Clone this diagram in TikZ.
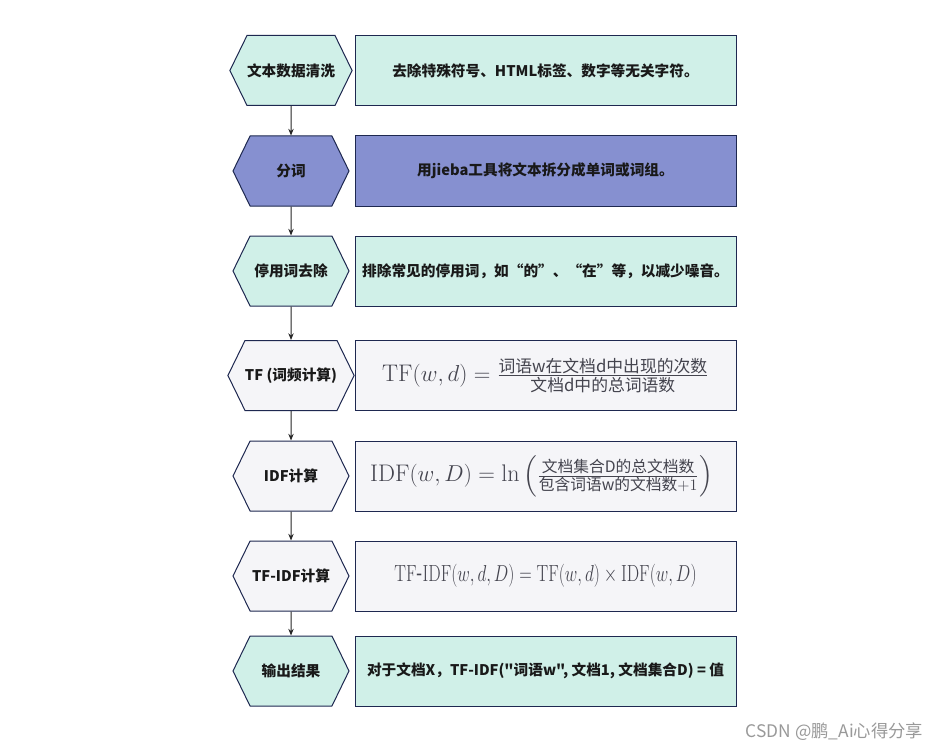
\documentclass[tikz,border=0pt]{standalone}
\usepackage{fontspec}
\usepackage{amsmath}
\usepackage{graphicx}
\newfontfamily\cjk{Noto Sans CJK SC}
\usetikzlibrary{shapes.symbols,arrows.meta}

\definecolor{mint}{HTML}{D0F0E8}
\definecolor{lilac}{HTML}{8690D0}
\definecolor{pale}{HTML}{F5F5F8}
\definecolor{edge}{HTML}{1E2850}
\definecolor{mathgray}{HTML}{44444E}

% words inside the fractions
\newcommand{\fracword}[2][12.6]{\text{\fontsize{#1}{14}\selectfont #2}}

\tikzset{
  stephex/.style={draw=edge, line width=0.75pt, signal, signal to=west and east,
    signal pointer angle=128, minimum width=87pt, minimum height=52.5pt,
    inner sep=0pt, font=\cjk\bfseries\fontsize{11}{13}\selectfont, text=black!90},
  stepbox/.style={draw=edge, line width=0.75pt, rectangle, minimum width=285.75pt,
    minimum height=52.5pt, inner sep=0pt, font=\cjk\bfseries\fontsize{11}{13}\selectfont, text=black!90},
  mathbox/.style={stepbox, fill=pale, font=\cjk\fontsize{18}{22}\selectfont, text=mathgray},
  flow/.style={-{Stealth[length=5pt,width=4pt]}, line width=0.75pt, black!85}
}

\begin{document}
\begin{tikzpicture}[x=0.75pt,y=-0.75pt]
\useasboundingbox[fill=white] (0,0) rectangle (943,749);

\node[stephex, fill=mint]  (clean) at (291,70.5) {文本数据清洗};
\node[stephex, fill=lilac] (cut)   at (291,171) {分词};
\node[stephex, fill=mint]  (stop)  at (291,271) {停用词去除};
\node[stephex, fill=pale]  (tf)    at (291,375.5) {TF~(词频计算)};
\node[stephex, fill=pale]  (idf)   at (291,476) {IDF计算};
\node[stephex, fill=pale]  (tfidf) at (291,576) {TF-IDF计算};
\node[stephex, fill=mint]  (out)   at (291,671) {输出结果};

\node[stepbox, fill=mint]  (cleantxt) at (545.5,70.5) {去除特殊符号、HTML标签、数字等无关字符。};
\node[stepbox, fill=lilac] (cuttxt)   at (545.5,171) {用jieba工具将文本拆分成单词或词组。};
\node[stepbox, fill=mint]  (stoptxt)  at (545.5,271) {排除常见的停用词，如“的”、“在”等，以减少噪音。};
\node[mathbox] (tftxt) at (545.5,375.5)
  {$\mathrm{TF}(w,d)=\frac{\fracword{词语w在文档d中出现的次数}}{\fracword{文档d中的总词语数}}$};
\node[mathbox] (idftxt) at (545.5,476)
  {\hspace*{-6pt}$\mathrm{IDF}(w,D)=\ln\,\Bigl(\frac{\fracword[11.8]{文档集合D的总文档数}}{\fracword[11.8]{包含词语w的文档数}+1}\Bigr)$};
\node[mathbox, font=\cjk\fontsize{17.5}{20}\selectfont] (tfidftxt) at (545.5,576)
  {\scalebox{0.75}[1]{$\mathrm{TF\text{-}IDF}(w,d,D)=\mathrm{TF}(w,d)\times\mathrm{IDF}(w,D)$}};
\node[stepbox, fill=mint]  (outtxt)   at (545.5,671) {对于文档X，TF-IDF("词语w", 文档1, 文档集合D) = 值};

\foreach \a/\b in {clean/cut,cut/stop,stop/tf,tf/idf,idf/tfidf,tfidf/out}
  \draw[flow] (\a) -- (\b);

% watermark
\node[font=\cjk\fontsize{13}{15}\selectfont, text=black!40, anchor=east] (mark) at (928,732) {CSDN @鹏\_Ai心得分享};
\end{tikzpicture}
\end{document}
